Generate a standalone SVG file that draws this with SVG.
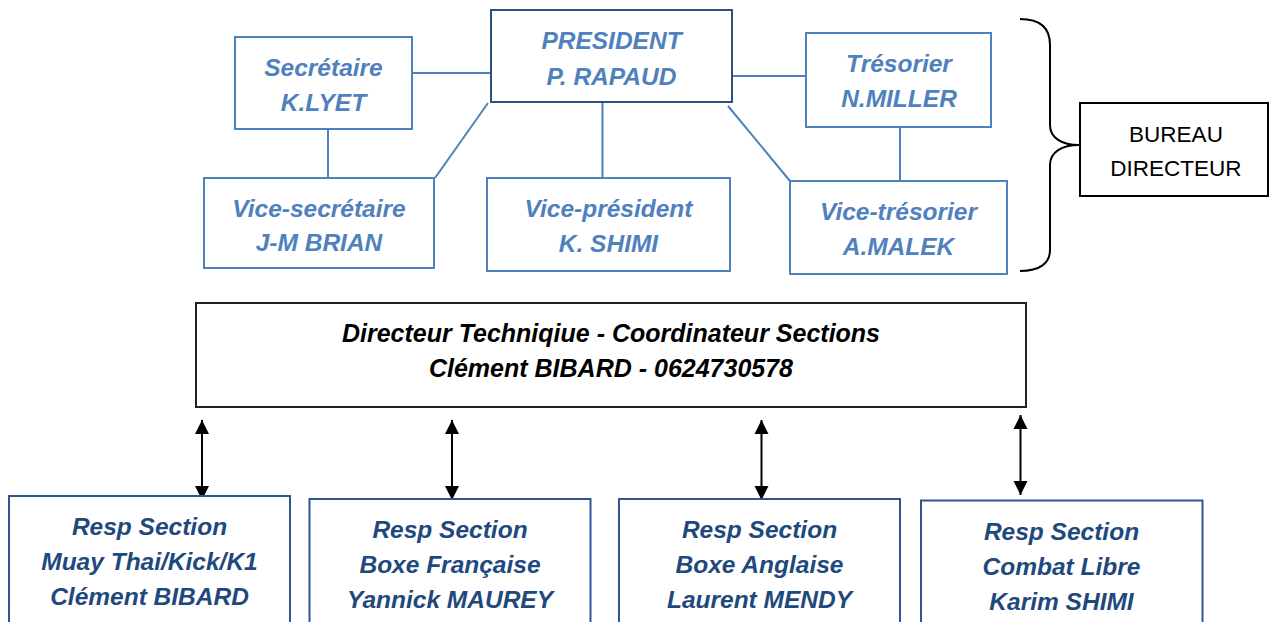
<svg xmlns="http://www.w3.org/2000/svg" width="1270" height="622" viewBox="0 0 1270 622">
<style>
.bx{fill:#fff;stroke:#4F81BD;stroke-width:2}
.bxp{fill:#fff;stroke:#2F4F7F;stroke-width:2}
.bxd{fill:#fff;stroke:#222;stroke-width:2}
.bxs{fill:#fff;stroke:#2F5597;stroke-width:2}
.t{font-family:"Liberation Sans",Arial,sans-serif;font-weight:bold;font-style:italic;text-anchor:middle}
.tb{fill:#4F81BD;font-size:24.5px}
.td{fill:#000;font-size:25px}
.ts{fill:#1F497D;font-size:24.5px}
.tn{font-family:"Liberation Sans",Arial,sans-serif;fill:#000;font-size:22.5px;text-anchor:middle}
.ln{stroke:#4F81BD;stroke-width:2;fill:none}
.ar{stroke:#000;stroke-width:2;fill:none;marker-start:url(#ah);marker-end:url(#ah)}
</style>
<defs>
<marker id="ah" viewBox="0 0 10 10" refX="10" refY="5" markerUnits="userSpaceOnUse" markerWidth="14" markerHeight="15" orient="auto-start-reverse">
<path d="M0,0 L10,5 L0,10 z" fill="#000"/>
</marker>
</defs>
<rect width="1270" height="622" fill="#fff"/>
<g id="connectors">
<line class="ln" x1="412" y1="73" x2="491" y2="73"/>
<line class="ln" x1="732" y1="76" x2="806" y2="76"/>
<line class="ln" x1="328" y1="129" x2="328" y2="178"/>
<line class="ln" x1="602.5" y1="102" x2="602.5" y2="178"/>
<line class="ln" x1="900" y1="127" x2="900" y2="181"/>
<line class="ln" x1="488" y1="103" x2="435" y2="178"/>
<line class="ln" x1="728" y1="106" x2="790" y2="181"/>
<path d="M1020,19 C1040,19 1050,27 1050,45 L1050,125 C1050,138 1062,145 1079,145 C1062,145 1050,152 1050,165 L1050,250 C1050,263 1040,271 1020,271" fill="none" stroke="#000" stroke-width="2"/>
<line class="ar" x1="202" y1="420" x2="202" y2="500"/>
<line class="ar" x1="452" y1="420" x2="452" y2="500"/>
<line class="ar" x1="761.5" y1="420" x2="761.5" y2="500"/>
<line class="ar" x1="1020.5" y1="415" x2="1020.5" y2="495"/>
</g>
<g id="president">
<rect class="bxp" x="491" y="10" width="241" height="92"/>
<text class="t tb" x="611.5" y="49">PRESIDENT</text>
<text class="t tb" x="611.5" y="85">P. RAPAUD</text>
</g>
<g id="secretaire">
<rect class="bx" x="235" y="37" width="177" height="92"/>
<text class="t tb" x="323.5" y="76">Secrétaire</text>
<text class="t tb" x="323.5" y="110.5">K.LYET</text>
</g>
<g id="tresorier">
<rect class="bx" x="806" y="33" width="185" height="94"/>
<text class="t tb" x="899" y="72">Trésorier</text>
<text class="t tb" x="899" y="107">N.MILLER</text>
</g>
<g id="vice-secretaire">
<rect class="bx" x="204" y="178" width="230" height="90"/>
<text class="t tb" x="319" y="217">Vice-secrétaire</text>
<text class="t tb" x="319" y="250.5">J-M BRIAN</text>
</g>
<g id="vice-president">
<rect class="bx" x="487" y="178" width="243" height="93"/>
<text class="t tb" x="608.5" y="217">Vice-président</text>
<text class="t tb" x="608.5" y="252">K. SHIMI</text>
</g>
<g id="vice-tresorier">
<rect class="bx" x="790" y="181" width="217" height="93"/>
<text class="t tb" x="898.5" y="220">Vice-trésorier</text>
<text class="t tb" x="898.5" y="255">A.MALEK</text>
</g>
<g id="bureau">
<rect x="1080" y="103" width="188" height="93" fill="#fff" stroke="#000" stroke-width="2"/>
<text class="tn" x="1176" y="141.5">BUREAU</text>
<text class="tn" x="1176" y="176">DIRECTEUR</text>
</g>
<g id="directeur">
<rect class="bxd" x="196" y="303" width="830" height="104"/>
<text class="t td" x="611" y="341.5">Directeur Techniqiue - Coordinateur Sections</text>
<text class="t td" x="611" y="377">Clément BIBARD - 0624730578</text>
</g>
<g id="muay-thai">
<rect class="bxs" x="9" y="496" width="281" height="140"/>
<text class="t ts" x="149.5" y="535">Resp Section</text>
<text class="t ts" x="149.5" y="570">Muay Thai/Kick/K1</text>
<text class="t ts" x="149.5" y="605">Clément BIBARD</text>
</g>
<g id="boxe-francaise">
<rect class="bxs" x="309.5" y="499" width="281" height="140"/>
<text class="t ts" x="450" y="538">Resp Section</text>
<text class="t ts" x="450" y="573">Boxe Française</text>
<text class="t ts" x="450" y="608">Yannick MAUREY</text>
</g>
<g id="boxe-anglaise">
<rect class="bxs" x="619" y="499" width="281" height="140"/>
<text class="t ts" x="759.5" y="538">Resp Section</text>
<text class="t ts" x="759.5" y="573">Boxe Anglaise</text>
<text class="t ts" x="759.5" y="608">Laurent MENDY</text>
</g>
<g id="combat-libre">
<rect class="bxs" x="921" y="500.5" width="281.5" height="140"/>
<text class="t ts" x="1061.5" y="540">Resp Section</text>
<text class="t ts" x="1061.5" y="575">Combat Libre</text>
<text class="t ts" x="1061.5" y="610">Karim SHIMI</text>
</g>
</svg>
